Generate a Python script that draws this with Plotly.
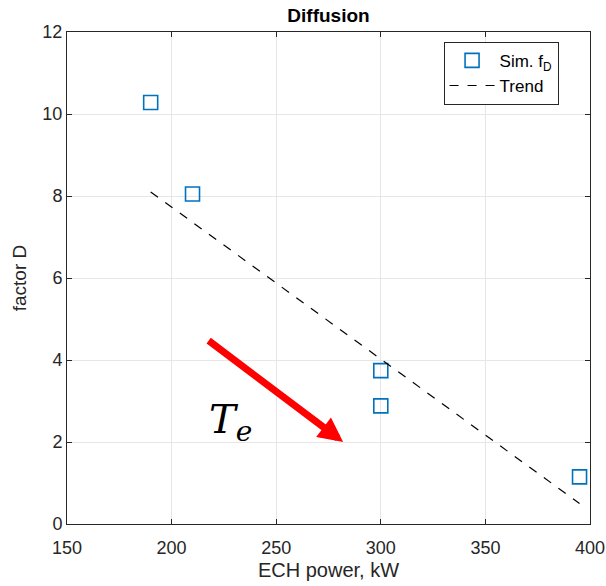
import plotly.graph_objects as go

power_kw = [190, 210, 300, 300, 395]
factor_d = [10.28, 8.05, 3.74, 2.88, 1.15]
trend_x = [190, 395]
trend_y = [8.1, 0.5]
arrow_start = (217, 4.5)
arrow_end = (282, 2.0)
x_ticks = [150, 200, 250, 300, 350, 400]
y_ticks = [0, 2, 4, 6, 8, 10, 12]

font_family = "Liberation Sans, Arial, sans-serif"

fig = go.Figure()
fig.add_trace(go.Scatter(
    x=power_kw, y=factor_d, mode="markers", name="Sim. f<sub>D</sub>",
    marker=dict(symbol="square-open", size=14, color="#0072BD", line=dict(width=1.6, color="#0072BD")),
))
fig.add_trace(go.Scatter(
    x=trend_x, y=trend_y, mode="lines", name="Trend",
    line=dict(color="black", width=1.2, dash="dash"),
))

fig.add_annotation(
    x=arrow_end[0], y=arrow_end[1], ax=arrow_start[0], ay=arrow_start[1],
    xref="x", yref="y", axref="x", ayref="y",
    text="", showarrow=True, arrowhead=2, arrowsize=0.7, arrowwidth=7, arrowcolor="#FF0000",
)
fig.add_annotation(
    x=228, y=2.5, xref="x", yref="y", showarrow=False,
    text="<i>T</i><sub><i>e</i></sub>",
    font=dict(family="DejaVu Serif, Liberation Serif, serif", size=40, color="black"),
)

axis_common = dict(
    showline=True, linecolor="#262626", linewidth=1, mirror="ticks",
    ticks="inside", ticklen=5, tickcolor="#262626",
    showgrid=True, gridcolor="#E6E6E6", gridwidth=1, zeroline=False,
    tickfont=dict(family=font_family, size=18, color="#262626"),
    automargin=False,
)

fig.update_layout(
    width=606, height=586,
    margin=dict(l=67, r=16, t=32, b=62),
    paper_bgcolor="white", plot_bgcolor="white",
    title=dict(text="<b>Diffusion</b>", x=0.5, xref="paper", xanchor="center", y=0.974, yanchor="middle",
               font=dict(family=font_family, size=19, color="black"), automargin=False),
    xaxis=dict(range=[150, 400], tickvals=x_ticks, ticklabelstandoff=7,
               title=dict(text="ECH power, kW", font=dict(family=font_family, size=20, color="#262626"), standoff=6),
               **axis_common),
    yaxis=dict(range=[0, 12], tickvals=y_ticks,
               title=dict(text="factor D", font=dict(family=font_family, size=19, color="#262626"), standoff=10),
               **axis_common),
    legend=dict(x=0.72, y=0.98, xanchor="left", yanchor="top",
                bgcolor="white", bordercolor="#262626", borderwidth=1, itemwidth=45,
                font=dict(family=font_family, size=17, color="black"), tracegroupgap=0),
    showlegend=True,
)

fig.write_html("out.html")
